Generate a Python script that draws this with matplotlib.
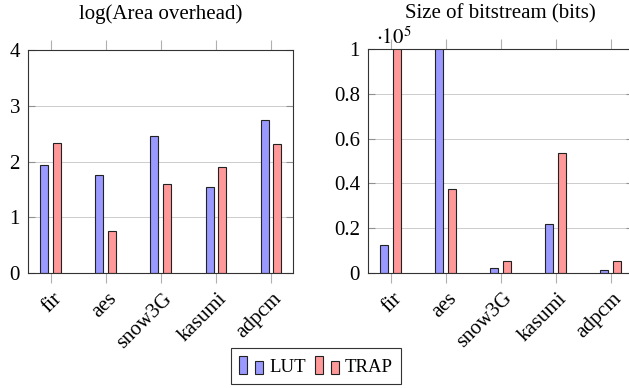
import matplotlib
matplotlib.use('Agg')
import matplotlib.pyplot as plt
import numpy as np
from matplotlib.patches import Rectangle
from matplotlib.legend_handler import HandlerBase

plt.rcParams['font.family'] = ['Liberation Serif', 'DejaVu Serif']
plt.rcParams['mathtext.fontset'] = 'stix'

categories = ['fir', 'aes', 'snow3G', 'kasumi', 'adpcm']
series_names = ['LUT', 'TRAP']
area_lut = [1.94, 1.76, 2.45, 1.54, 2.74]
area_trap = [2.34, 0.75, 1.59, 1.90, 2.31]
bits_lut = [12400, 130000, 2000, 21800, 1200]
bits_trap = [140000, 37500, 5100, 53500, 5100]
area_yticks = [0, 1, 2, 3, 4]
bits_yticks = [0, 0.2, 0.4, 0.6, 0.8, 1.0]
bits_yticklabels = ['0', '0.2', '0.4', '0.6', '0.8', '1']
bits_scale = 1e5

FS = 15
FS_LEG = 13.5
BLUE = '#9999ff'
RED = '#ff9999'
EDGE = '#222222'
W, H = 629, 388

fig = plt.figure(figsize=(W / 100, H / 100), dpi=100)


def px_axes(x0, x1, ytop, ybot):
    return fig.add_axes([x0 / W, 1 - ybot / H, (x1 - x0) / W, (ybot - ytop) / H])


ax1 = px_axes(28.3, 293.3, 50, 273)
ax2 = px_axes(368.3, 633, 49.3, 272.7)

x = np.arange(len(categories))
bw = 0.145
off = 0.115


def style(ax, yticks, yticklabels, ylim):
    ax.bar(x - off, ylim[2], bw, color=BLUE, edgecolor=EDGE, linewidth=0.8, zorder=3)
    ax.bar(x + off, ylim[3], bw, color=RED, edgecolor=EDGE, linewidth=0.8, zorder=3)
    ax.set_xlim(-0.407, len(categories) - 1 + 0.407)
    ax.set_ylim(ylim[0], ylim[1])
    ax.set_xticks(x)
    ax.set_xticklabels([])
    for xi, cat in zip(x, categories):
        ax.annotate(cat, xy=(xi, 0), xycoords=('data', 'axes fraction'),
                    xytext=(6.0, -16.6), textcoords='offset points',
                    rotation=45, ha='right', va='center', rotation_mode='anchor',
                    fontsize=FS, annotation_clip=False)
    ax.set_yticks(yticks)
    ax.set_yticklabels(yticklabels, fontsize=FS)
    ax.tick_params(axis='x', which='both', direction='out', top=True, bottom=True,
                   length=7.5, width=0.8, color='#b0b0b0', labelbottom=False)
    ax.tick_params(axis='y', which='both', direction='in', left=True, right=True,
                   length=5, width=0.8, color='#909090', pad=6)
    ax.grid(axis='y', color='#cccccc', linewidth=0.7, zorder=0)
    ax.set_axisbelow(True)
    for s in ax.spines.values():
        s.set_color('#333333')
        s.set_linewidth(0.8)
        s.set_zorder(5)


style(ax1, area_yticks, [str(t) for t in area_yticks], (0, 4, area_lut, area_trap))
style(ax2, bits_yticks, bits_yticklabels,
      (0, 1, [v / bits_scale for v in bits_lut], [v / bits_scale for v in bits_trap]))

fig.text((28.3 + 293.3) / 2 / W, 1 - 18.5 / H, 'log(Area overhead)', ha='center',
         va='baseline', fontsize=FS)
fig.text((368.3 + 633) / 2 / W, 1 - 18.5 / H, 'Size of bitstream (bits)', ha='center',
         va='baseline', fontsize=FS)
fig.text(376 / W, 1 - 43.5 / H, r'$\cdot 10^{5}$', ha='left', va='baseline', fontsize=FS)


class TwoBarHandler(HandlerBase):
    def create_artists(self, legend, orig_handle, xdescent, ydescent, width, height,
                       fontsize, trans):
        fc = orig_handle.get_facecolor()
        bwid = width * 0.33
        r1 = Rectangle((-xdescent, -ydescent), bwid, height, facecolor=fc,
                       edgecolor=EDGE, linewidth=0.8, transform=trans)
        r2 = Rectangle((-xdescent + width - bwid, -ydescent), bwid, height * 0.74,
                       facecolor=fc, edgecolor=EDGE, linewidth=0.8, transform=trans)
        return [r1, r2]


handles = [Rectangle((0, 0), 1, 1, facecolor=BLUE), Rectangle((0, 0), 1, 1, facecolor=RED)]
leg = fig.legend(handles, series_names, loc='center', bbox_to_anchor=(316 / W, 1 - 366 / H),
                 ncol=2, fontsize=FS_LEG, handler_map={Rectangle: TwoBarHandler()},
                 handlelength=1.3, handleheight=1.1, handletextpad=0.32,
                 columnspacing=0.45, borderpad=0.45, fancybox=False, framealpha=1,
                 edgecolor='#333333', borderaxespad=0)
leg.get_frame().set_linewidth(0.8)

fig.savefig('out.png', dpi=100)
